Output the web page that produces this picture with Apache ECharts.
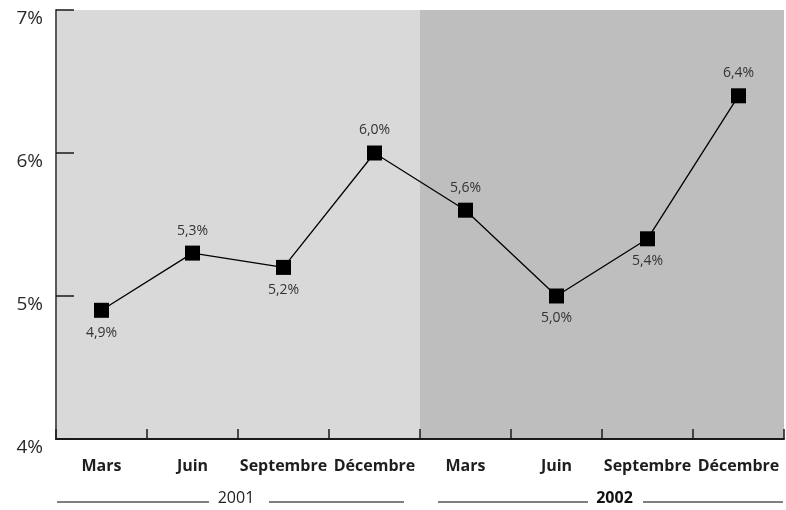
<!DOCTYPE html>
<html>
<head>
<meta charset="utf-8">
<script src="https://cdn.jsdelivr.net/npm/echarts@6/dist/echarts.min.js"></script>
<style>
html,body{margin:0;padding:0;background:#fff;}
#chart{width:786px;height:510px;}
</style>
</head>
<body>
<div id="chart"></div>
<script>
const categories = ['Mars', 'Juin', 'Septembre', 'Décembre', 'Mars', 'Juin', 'Septembre', 'Décembre'];
const values = [4.9, 5.3, 5.2, 6.0, 5.6, 5.0, 5.4, 6.4];
const labelPositions = ['bottom', 'top', 'bottom', 'top', 'top', 'bottom', 'bottom', 'top'];
const years = ['2001', '2002'];
const yTicks = [4, 5, 6, 7];

const FONT = '"Open Sans", "Noto Sans", sans-serif';
const chart = echarts.init(document.getElementById('chart'), null, {renderer: 'canvas'});

const option = {
  animation: false,
  grid: {left: 56, right: 2, top: 10, bottom: 71},
  xAxis: [
    {
      type: 'category',
      data: categories.map((c, i) => c + '#' + i),
      position: 'bottom',
      boundaryGap: true,
      axisLine: {show: true, lineStyle: {color: '#1a1a1a', width: 2}},
      axisTick: {show: true, inside: true, length: 10, lineStyle: {color: '#1a1a1a', width: 1.5}},
      axisLabel: {
        formatter: v => v.split('#')[0],
        color: '#1e1e1e', fontFamily: FONT, fontWeight: 'bold', fontSize: 16, margin: 19,
        interval: 0
      },
      splitLine: {show: false}
    },
    {
      type: 'category',
      data: years,
      position: 'bottom',
      offset: 51,
      boundaryGap: true,
      axisLine: {show: false},
      axisTick: {show: false},
      axisLabel: {
        color: '#222', fontFamily: FONT, fontSize: 16, margin: 0,
        formatter: v => v === '2002' ? '{b|' + v + '}' : '{r|' + v + '}',
        rich: {
          r: {fontSize: 16, fontFamily: FONT, color: '#222', padding: [0, 4, 0, 0]},
          b: {fontWeight: 'bold', fontSize: 16, fontFamily: FONT, color: '#111', padding: [0, 0, 0, 25]}
        }
      },
      splitArea: {show: true, areaStyle: {color: ['#d9d9d9', '#bebebe']}},
      splitLine: {show: false}
    }
  ],
  yAxis: {
    type: 'value',
    min: 4, max: 7, interval: 1,
    axisLine: {show: true, lineStyle: {color: '#5a5a5a', width: 2}},
    axisTick: {show: true, inside: true, length: 18, lineStyle: {color: '#1a1a1a', width: 1.5}},
    axisLabel: {
      formatter: v => v + '%',
      color: '#2a2a2a', fontFamily: FONT, fontSize: 19, margin: 13,
      verticalAlign: 'top', lineHeight: 17
    },
    splitLine: {show: false}
  },
  series: [{
    type: 'line',
    xAxisIndex: 0,
    data: values.map((v, i) => ({
      value: v,
      label: {position: labelPositions[i]}
    })),
    symbol: 'rect',
    symbolSize: 15,
    itemStyle: {color: '#000'},
    lineStyle: {color: '#000', width: 1.3},
    label: {
      show: true,
      formatter: p => p.value.toFixed(1).replace('.', ',') + '%',
      color: '#333', fontFamily: FONT, fontSize: 14, distance: 8
    },
    z: 5
  }]
};
chart.setOption(option);

// decorative rules around year labels
function drawYearRules() {
  const grid = chart.getModel().getComponent('grid', 0).coordinateSystem.getRect();
  const n = years.length;
  const w = grid.width / n;
  const y = grid.y + grid.height + 63;
  const startInset = [1, 18];
  const endInset = [16, 1];
  const leftGap = [29, 14];
  const rightGap = [31, 41];
  const elems = [];
  years.forEach((yr, i) => {
    const x0 = grid.x + i * w;
    const x1 = x0 + w;
    const cx = (x0 + x1) / 2;
    elems.push({type: 'line', shape: {x1: x0 + startInset[i], y1: y, x2: cx - leftGap[i], y2: y},
      style: {stroke: '#555', lineWidth: 1.5}, silent: true});
    elems.push({type: 'line', shape: {x1: cx + rightGap[i], y1: y, x2: x1 - endInset[i], y2: y},
      style: {stroke: '#555', lineWidth: 1.5}, silent: true});
  });
  chart.setOption({graphic: elems});
}
drawYearRules();
</script>
</body>
</html>
